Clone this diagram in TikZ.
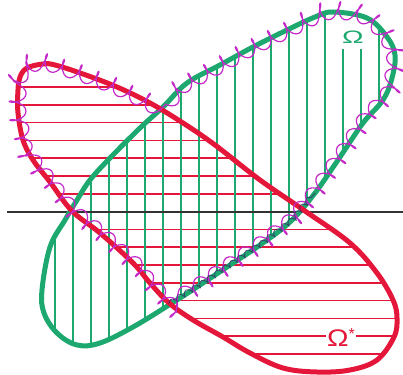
\documentclass[tikz,border=0pt]{standalone}
\usepackage{fontspec}
\newfontfamily\lab{Liberation Sans}
\usetikzlibrary{decorations.pathmorphing}
\definecolor{gr}{RGB}{28,168,110}
\definecolor{rd}{RGB}{228,22,58}
\definecolor{pu}{RGB}{196,40,200}
\definecolor{nv}{RGB}{60,40,110}
\begin{document}
\begin{tikzpicture}[x=1pt,y=-1pt,
  outline/.style={line width=5pt, line join=round},
  hatch/.style={line width=1.5pt},
  wavy/.style={pu, line width=1.2pt, decorate, decoration={coil, amplitude=8pt, segment length=18pt}},
  lbl/.style={inner sep=1pt}]
\useasboundingbox (0,0) rectangle (403,374);
\def\greenpath{plot[smooth cycle, tension=0.6] coordinates {
 (315,17) (333,12) (367,18) (387,37) (395,55) (392,78) (383,100) (363,123)
 (340,157) (315,193) (290,222) (260,245) (230,265) (200,285) (169,305)
 (133,327) (100,343) (77,345) (57,333) (44,313) (42,290) (50,247) (65,220)
 (77,200) (90,180) (110,158) (140,128) (163,107) (187,83) (220,65) (253,47) (287,30)}}
\def\redpath{plot[smooth cycle, tension=0.6] coordinates {
 (27,68) (43,64) (55,65) (83,74) (117,87) (150,103) (183,123) (215,145)
 (260,180) (305,211) (350,243) (377,273) (393,300) (397,318) (394,337)
 (377,360) (350,370) (317,372) (283,368) (250,353) (223,337) (193,320)
 (169,303) (150,283) (133,263) (100,233) (72,211) (50,182) (33,160)
 (23,140) (18,113) (18,90) (20,77)}}
% hatching
\begin{scope}
 \clip \redpath;
 \foreach \k in {0,...,15} \draw[rd,hatch] (0,{87+17.8*\k}) -- (403,{87+17.8*\k});
\end{scope}
\begin{scope}
 \clip \greenpath;
 \foreach \k in {0,...,18} \draw[gr,hatch] ({55+18*\k},0) -- ({55+18*\k},374);
\end{scope}
\fill[white] (336,6) rectangle (369,49);
% axis line
\draw[line width=1.8pt, black!80] (7,212) -- (403,212);
% outlines
\draw[gr,outline] \greenpath;
\draw[rd,outline] \redpath;
% wavy boundary (polyline input)
\draw[wavy] plot coordinates {
 (160,110) (150,103) (117,87) (83,74) (55,65) (43,64) (31,66) (23,73) (19,83) (18,95)
 (18,113) (23,140) (33,160) (50,182) (72,211) (100,233) (133,263) (150,283)
 (169,304) (200,285) (230,265) (260,245) (290,222) (315,193) (340,157)
 (363,123) (383,100) (392,78) (395,55) (389,40) (378,26) (367,18) (350,13) (333,12) (315,17)
 (287,30) (253,47) (220,65) (187,83) (160,110)};
\draw[nv, line width=0.9pt, opacity=0.75, decorate, decoration={coil, amplitude=3pt, segment length=9pt}]
 plot coordinates {(169,304) (200,285) (230,265) (260,245) (290,222) (315,193)};
% labels
\node[lbl, text=gr] (om) at (353,37) {\lab\scalebox{1.6}[1]{\fontsize{18}{18}\selectfont Ω}};
\node[lbl, text=rd, fill=white, anchor=west] (oms) at (326,337) {\lab\scalebox{1.2}[1]{\fontsize{24}{24}\selectfont Ω}\raisebox{7pt}{\fontsize{16}{16}\selectfont *}};
\end{tikzpicture}
\end{document}
